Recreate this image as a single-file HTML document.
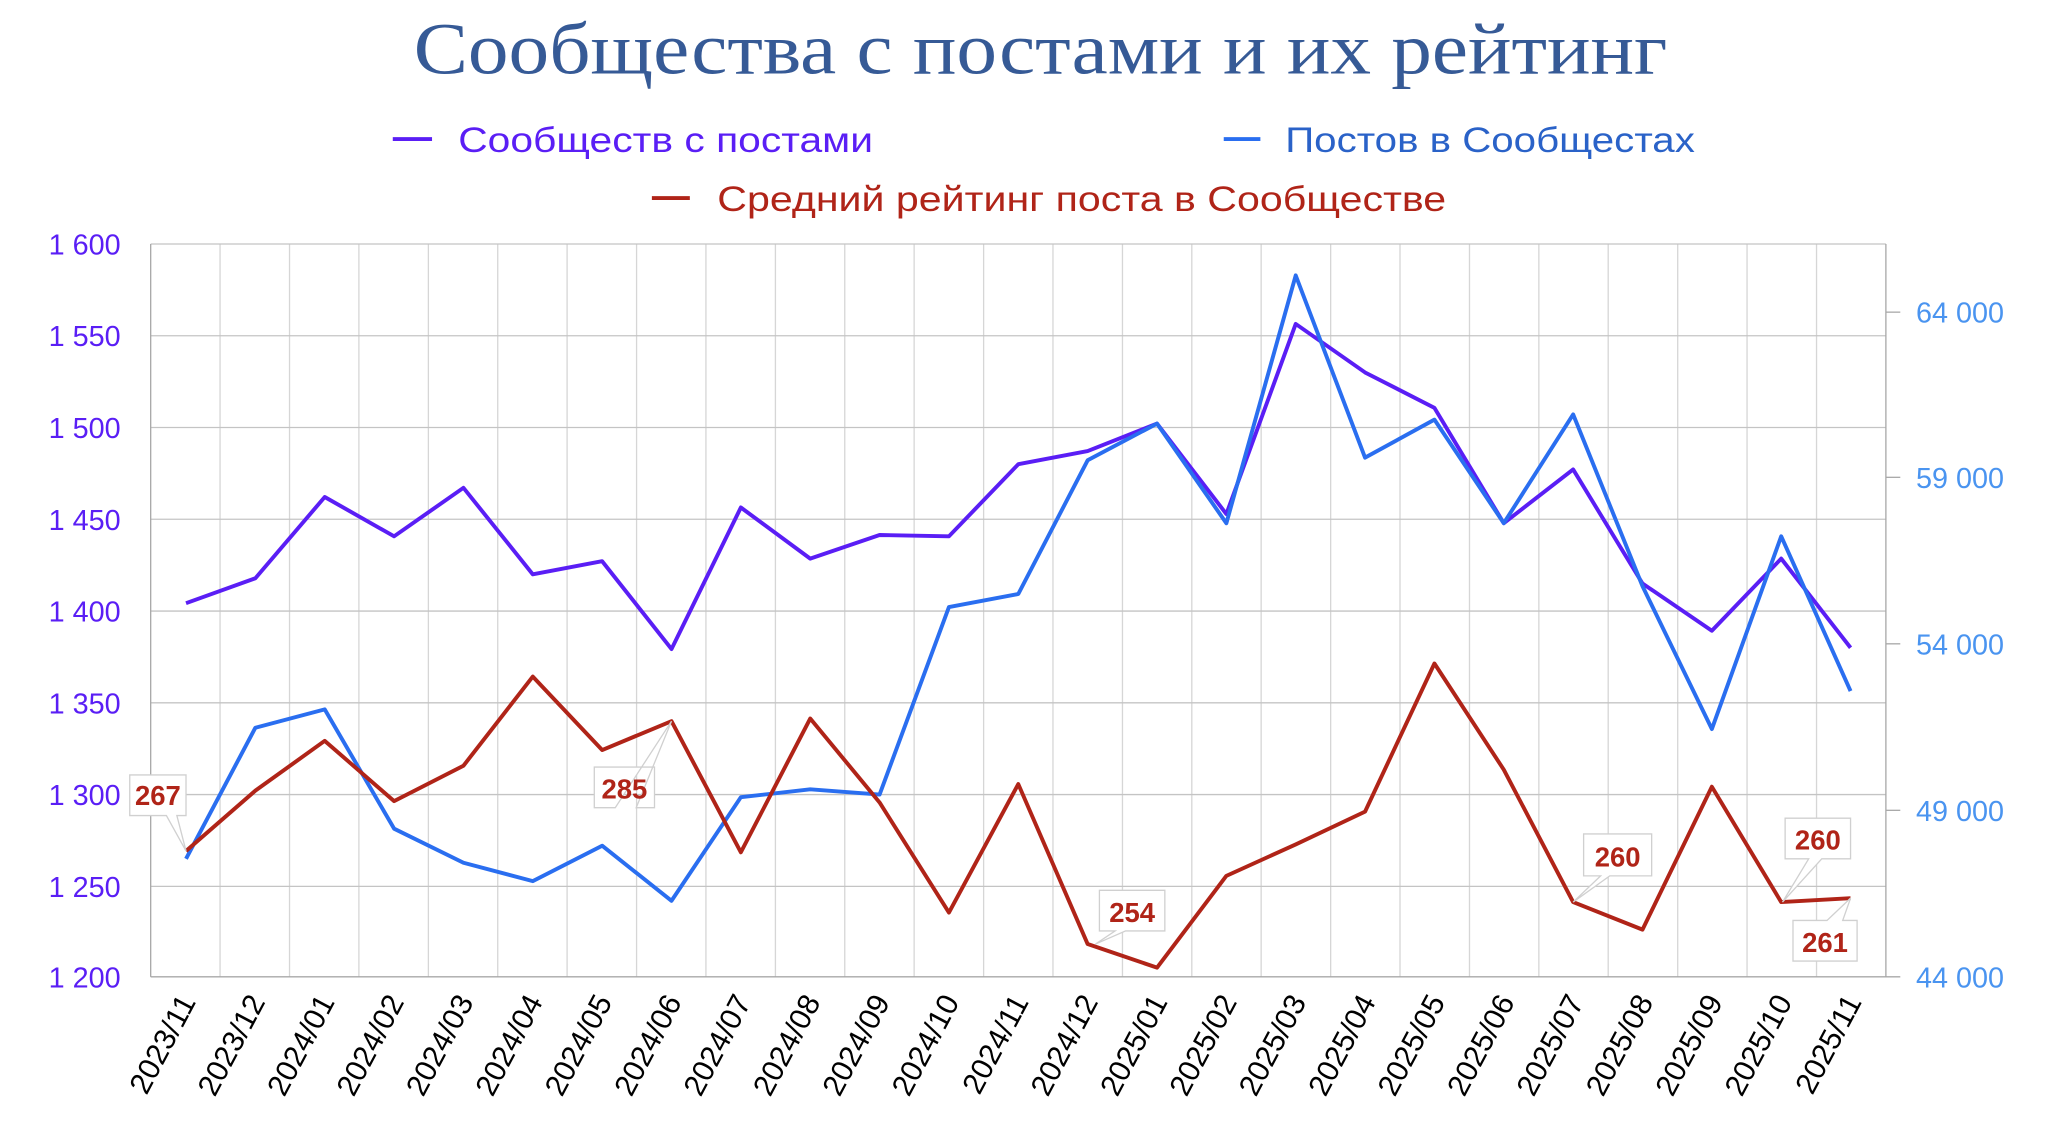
<!DOCTYPE html>
<html><head><meta charset="utf-8"><style>
html,body{margin:0;padding:0;background:#fff;}
svg{display:block;}
text{font-family:"Liberation Sans","DejaVu Sans",sans-serif;}
</style></head><body>
<svg width="2048" height="1129" viewBox="0 0 2048 1129" xmlns="http://www.w3.org/2000/svg">
<g transform="matrix(1.3086,0,0,1.311,0.2,-2.5)">
<text x="795" y="58" text-anchor="middle" style="font-family:'Liberation Serif','DejaVu Serif',serif" font-size="56" fill="#365a96" textLength="958" lengthAdjust="spacingAndGlyphs">Сообщества с постами и их рейтинг</text>
<line x1="300" y1="108" x2="330" y2="108" stroke="#5a1ef5" stroke-width="3"/>
<text x="350" y="118" font-size="27" fill="#5a1ef5" textLength="317" lengthAdjust="spacingAndGlyphs">Сообществ с постами</text>
<line x1="935" y1="108" x2="963" y2="108" stroke="#2a6ef0" stroke-width="3"/>
<text x="982" y="118" font-size="27" fill="#2a62c8" textLength="313" lengthAdjust="spacingAndGlyphs">Постов в Сообщестах</text>
<line x1="498" y1="153" x2="527" y2="153" stroke="#b02418" stroke-width="3"/>
<text x="548" y="163" font-size="27" fill="#b02418" textLength="557" lengthAdjust="spacingAndGlyphs">Средний рейтинг поста в Сообществе</text>
<g stroke="#d6d6d6" stroke-width="1">
<line x1="168" y1="188" x2="168" y2="747"/><line x1="221.1" y1="188" x2="221.1" y2="747"/><line x1="274.1" y1="188" x2="274.1" y2="747"/><line x1="327.2" y1="188" x2="327.2" y2="747"/><line x1="380.2" y1="188" x2="380.2" y2="747"/><line x1="433.2" y1="188" x2="433.2" y2="747"/><line x1="486.3" y1="188" x2="486.3" y2="747"/><line x1="539.3" y1="188" x2="539.3" y2="747"/><line x1="592.4" y1="188" x2="592.4" y2="747"/><line x1="645.4" y1="188" x2="645.4" y2="747"/><line x1="698.4" y1="188" x2="698.4" y2="747"/><line x1="751.5" y1="188" x2="751.5" y2="747"/><line x1="804.5" y1="188" x2="804.5" y2="747"/><line x1="857.6" y1="188" x2="857.6" y2="747"/><line x1="910.6" y1="188" x2="910.6" y2="747"/><line x1="963.6" y1="188" x2="963.6" y2="747"/><line x1="1016.7" y1="188" x2="1016.7" y2="747"/><line x1="1069.7" y1="188" x2="1069.7" y2="747"/><line x1="1122.8" y1="188" x2="1122.8" y2="747"/><line x1="1175.8" y1="188" x2="1175.8" y2="747"/><line x1="1228.8" y1="188" x2="1228.8" y2="747"/><line x1="1281.9" y1="188" x2="1281.9" y2="747"/><line x1="1334.9" y1="188" x2="1334.9" y2="747"/><line x1="1388" y1="188" x2="1388" y2="747"/>
</g>
<g stroke="#c4c4c4" stroke-width="1">
<line x1="115" y1="188" x2="1441" y2="188"/><line x1="115" y1="258" x2="1441" y2="258"/><line x1="115" y1="328" x2="1441" y2="328"/><line x1="115" y1="398" x2="1441" y2="398"/><line x1="115" y1="468" x2="1441" y2="468"/><line x1="115" y1="538" x2="1441" y2="538"/><line x1="115" y1="608" x2="1441" y2="608"/><line x1="115" y1="678" x2="1441" y2="678"/>
</g>
<g stroke="#a8a8a8" stroke-width="1">
<line x1="115" y1="188" x2="115" y2="747"/><line x1="115" y1="747" x2="1452" y2="747"/><line x1="1441" y1="188" x2="1441" y2="747"/>
<line x1="1441" y1="240" x2="1452" y2="240"/><line x1="1441" y1="366" x2="1452" y2="366"/><line x1="1441" y1="493" x2="1452" y2="493"/><line x1="1441" y1="620" x2="1452" y2="620"/>
</g>
<g font-size="22" fill="#5a1ef5" text-anchor="end">
<text x="92" y="196">1 600</text><text x="92" y="266">1 550</text><text x="92" y="336">1 500</text><text x="92" y="406">1 450</text><text x="92" y="476">1 400</text><text x="92" y="546">1 350</text><text x="92" y="616">1 300</text><text x="92" y="686">1 250</text><text x="92" y="755">1 200</text>
</g>
<g font-size="22" fill="#4a94f0" text-anchor="start">
<text x="1464" y="248">64 000</text><text x="1464" y="374">59 000</text><text x="1464" y="501">54 000</text><text x="1464" y="628">49 000</text><text x="1464" y="755">44 000</text>
</g>
<g font-size="23" fill="#000" text-anchor="end">
<text transform="translate(150,766) rotate(-62)">2023/11</text><text transform="translate(203,766) rotate(-62)">2023/12</text><text transform="translate(256.1,766) rotate(-62)">2024/01</text><text transform="translate(309.1,766) rotate(-62)">2024/02</text><text transform="translate(362.2,766) rotate(-62)">2024/03</text><text transform="translate(415.2,766) rotate(-62)">2024/04</text><text transform="translate(468.2,766) rotate(-62)">2024/05</text><text transform="translate(521.3,766) rotate(-62)">2024/06</text><text transform="translate(574.3,766) rotate(-62)">2024/07</text><text transform="translate(627.4,766) rotate(-62)">2024/08</text><text transform="translate(680.4,766) rotate(-62)">2024/09</text><text transform="translate(733.4,766) rotate(-62)">2024/10</text><text transform="translate(786.5,766) rotate(-62)">2024/11</text><text transform="translate(839.5,766) rotate(-62)">2024/12</text><text transform="translate(892.6,766) rotate(-62)">2025/01</text><text transform="translate(945.6,766) rotate(-62)">2025/02</text><text transform="translate(998.6,766) rotate(-62)">2025/03</text><text transform="translate(1051.7,766) rotate(-62)">2025/04</text><text transform="translate(1104.7,766) rotate(-62)">2025/05</text><text transform="translate(1157.8,766) rotate(-62)">2025/06</text><text transform="translate(1210.8,766) rotate(-62)">2025/07</text><text transform="translate(1263.8,766) rotate(-62)">2025/08</text><text transform="translate(1316.9,766) rotate(-62)">2025/09</text><text transform="translate(1369.9,766) rotate(-62)">2025/10</text><text transform="translate(1423,766) rotate(-62)">2025/11</text>
</g>
<polyline fill="none" stroke="#5a1ef5" stroke-width="3" stroke-linejoin="round" points="142,462 195,443 248,381 301,411 354,374 407,440 460,430 513,497 566,389 619,428 672,410 725,411 778,356 831,346 884,325 937,394 990,249 1043,286 1096,313 1149,401 1202,360 1255,447 1308,483 1361,428 1414,496"/>
<polyline fill="none" stroke="#2a6ef0" stroke-width="3" stroke-linejoin="round" points="142,657 195,557 248,543 301,634 354,660 407,674 460,647 513,689 566,610 619,604 672,608 725,465 778,455 831,353 884,325 937,401 990,212 1043,351 1096,322 1149,401 1202,318 1255,449 1308,558 1361,411 1414,529"/>
<polyline fill="none" stroke="#b02418" stroke-width="3" stroke-linejoin="round" points="142,651 195,605 248,567 301,613 354,586 407,518 460,574 513,552 566,652 619,550 672,614 725,698 778,600 831,722 884,740 937,670 990,646 1043,621 1096,508 1149,589 1202,690 1255,711 1308,602 1361,690 1414,687"/>
<g font-size="21" font-weight="bold" fill="#b02418" stroke-width="1">
<polygon points="99,593 142,593 142,624 135,624 142,651 127,624 99,624" fill="#fff" stroke="#d0d0d0"/><text x="120.5" y="616" text-anchor="middle">267</text>
<polygon points="454,587 500,587 500,618 486,618 513,552 470,618 454,618" fill="#fff" stroke="#d0d0d0"/><text x="477" y="611" text-anchor="middle">285</text>
<polygon points="840,681 890,681 890,712 860,712 837,722 852,712 840,712" fill="#fff" stroke="#d0d0d0"/><text x="865" y="705" text-anchor="middle">254</text>
<polygon points="1210,638 1262,638 1262,670 1230,670 1202,690 1223,670 1210,670" fill="#fff" stroke="#d0d0d0"/><text x="1236" y="663" text-anchor="middle">260</text>
<polygon points="1364,626 1414,626 1414,657 1392,657 1362,690 1382,657 1364,657" fill="#fff" stroke="#d0d0d0"/><text x="1389" y="650" text-anchor="middle">260</text>
<polygon points="1370,704 1396,704 1414,687 1408,704 1419,704 1419,735 1370,735" fill="#fff" stroke="#d0d0d0"/><text x="1394.5" y="728" text-anchor="middle">261</text>
</g>
</g>
</svg>
</body></html>
